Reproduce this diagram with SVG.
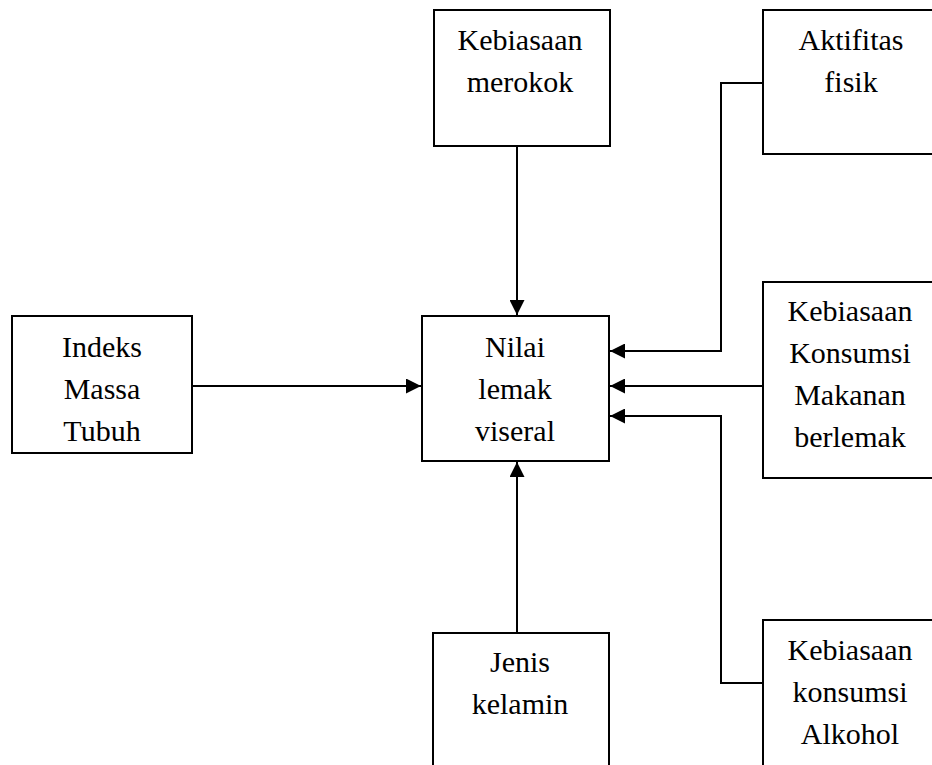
<svg xmlns="http://www.w3.org/2000/svg" width="932" height="765" viewBox="0 0 932 765">
<style>
.box{fill:#fff;stroke:#000;stroke-width:2}
.t{font-size:30px;text-anchor:middle;fill:#000}
.c{fill:none;stroke:#000;stroke-width:2}
</style>
<defs>
<marker id="ah" viewBox="0 0 15 15" refX="15" refY="7.5" markerWidth="15" markerHeight="15" markerUnits="userSpaceOnUse" orient="auto">
<path d="M0,0 L15,7.5 L0,15 Z" fill="#000"/>
</marker>
</defs>
<rect width="932" height="765" fill="#fff"/>
<g id="connectors">
<line class="c" x1="517" y1="146" x2="517" y2="315" marker-end="url(#ah)"/>
<line class="c" x1="517" y1="633" x2="517" y2="462" marker-end="url(#ah)"/>
<line class="c" x1="192" y1="386" x2="421" y2="386" marker-end="url(#ah)"/>
<polyline class="c" points="763,83 721,83 721,351 610,351" marker-end="url(#ah)"/>
<line class="c" x1="763" y1="386" x2="610" y2="386" marker-end="url(#ah)"/>
<polyline class="c" points="763,683 721,683 721,416 610,416" marker-end="url(#ah)"/>
</g>
<g font-family="Liberation Serif, Tinos, Times New Roman, DejaVu Serif, serif">
<g id="merokok">
<rect class="box" x="434" y="10" width="176" height="136"/>
<text class="t" x="520" y="50">Kebiasaan</text>
<text class="t" x="520" y="92">merokok</text>
</g>
<g id="aktifitas">
<rect class="box" x="763" y="10" width="180" height="144"/>
<text class="t" x="851" y="50">Aktifitas</text>
<text class="t" x="851" y="92">fisik</text>
</g>
<g id="imt">
<rect class="box" x="12" y="316" width="180" height="137"/>
<text class="t" x="102" y="357">Indeks</text>
<text class="t" x="102" y="399">Massa</text>
<text class="t" x="102" y="441">Tubuh</text>
</g>
<g id="nilai">
<rect class="box" x="422" y="316" width="187" height="145"/>
<text class="t" x="515" y="357">Nilai</text>
<text class="t" x="515" y="399">lemak</text>
<text class="t" x="515" y="441">viseral</text>
</g>
<g id="makanan">
<rect class="box" x="763" y="282" width="180" height="196"/>
<text class="t" x="850" y="321">Kebiasaan</text>
<text class="t" x="850" y="363">Konsumsi</text>
<text class="t" x="850" y="405">Makanan</text>
<text class="t" x="850" y="447">berlemak</text>
</g>
<g id="jenis">
<rect class="box" x="433" y="633" width="176" height="150"/>
<text class="t" x="520" y="672">Jenis</text>
<text class="t" x="520" y="714">kelamin</text>
</g>
<g id="alkohol">
<rect class="box" x="763" y="620" width="180" height="160"/>
<text class="t" x="850" y="660">Kebiasaan</text>
<text class="t" x="850" y="702">konsumsi</text>
<text class="t" x="850" y="744">Alkohol</text>
</g>
</g>
</svg>
